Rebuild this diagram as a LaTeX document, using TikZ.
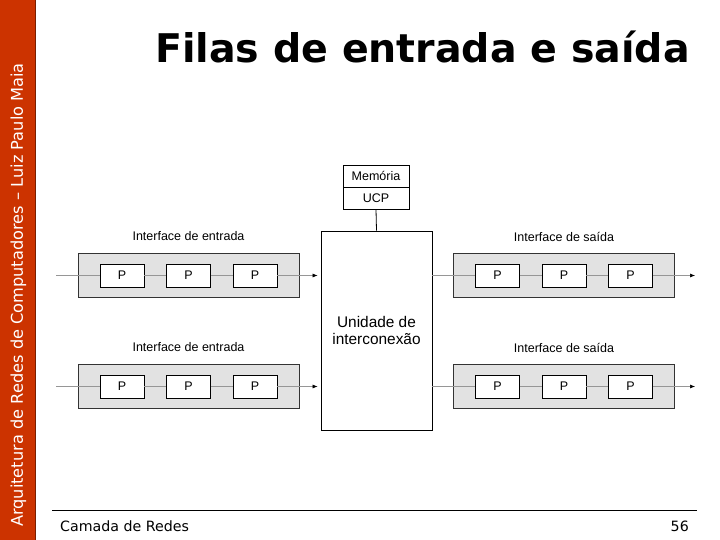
\documentclass[tikz,border=0pt]{standalone}
\usepackage{fontspec}
\setmainfont{Liberation Sans}
\newfontfamily\verd{DejaVu Sans}
\usetikzlibrary{arrows.meta}
\definecolor{barred}{RGB}{204,51,0}
\definecolor{bardark}{RGB}{120,30,0}
\definecolor{boxgray}{RGB}{226,226,226}
\definecolor{flowgray}{RGB}{150,150,150}
\begin{document}
\begin{tikzpicture}[x=1pt,y=-1pt,
  pbox/.style={draw=black,fill=white,line width=0.8pt,minimum width=44pt,minimum height=23pt,inner sep=0pt,font=\fontsize{12.5}{14}\selectfont},
  ifbox/.style={draw=black!80,fill=boxgray,line width=0.8pt,minimum width=221pt,minimum height=44pt,inner sep=0pt},
  lbl/.style={font=\fontsize{12.5}{14}\selectfont,inner sep=0pt},
  flow/.style={draw=flowgray,line width=0.6pt},
  flowarr/.style={flow,-{Latex[length=5pt,width=4pt,black]}},
  plain/.style={draw=black,line width=0.8pt}]
\useasboundingbox (0,0) rectangle (720,540);
\fill[white] (0,0) rectangle (720,540);
% side bar
\fill[barred] (0,0) rectangle (36,540);
\draw[bardark,line width=1pt] (35.5,0) -- (35.5,540);
\node[rotate=90,text=white,font=\verd\fontsize{16.2}{18}\selectfont,inner sep=0pt] (side) at (18.5,295) {Arquitetura de Redes de Computadores – Luiz Paulo Maia};
% title
\node[font=\verd\bfseries\fontsize{39.5}{44}\selectfont,inner sep=0pt,anchor=base] (title) at (422.5,63) {Filas de entrada e saída};
% footer
\draw[black,line width=0.8pt] (52,510) -- (697,510);
\node[font=\verd\fontsize{14.2}{16}\selectfont,anchor=base west,inner sep=0pt] (foot) at (60,531) {Camada de Redes};
\node[font=\verd\fontsize{14.2}{16}\selectfont,anchor=base east,inner sep=0pt] (page) at (689,531) {56};
% memory / cpu
\node[draw=black,line width=0.8pt,minimum width=66pt,minimum height=22pt,inner sep=0pt,font=\fontsize{12.5}{14}\selectfont] (mem) at (376,176) {Memória};
\node[draw=black,line width=0.8pt,minimum width=66pt,minimum height=22pt,inner sep=0pt,font=\fontsize{12.5}{14}\selectfont] (ucp) at (376,198) {UCP};
% interconnection unit
\node[draw=black,line width=0.8pt,minimum width=111pt,minimum height=199pt,inner sep=0pt,align=center,font=\fontsize{15.4}{17.5}\selectfont] (uni) at (376.5,330.5) {Unidade de\\interconexão};
\draw[plain] (ucp.south) -- (uni.north);
% rows
\foreach \r/\y in {a/275.5,b/386.5}{
  % input
  \node[ifbox] (in\r) at (188.5,\y) {};
  \node[lbl] (inl\r) at (188.5,\y-39) {Interface de entrada};
  \node[pbox] (ip1\r) at (122,\y) {P};
  \node[pbox] (ip2\r) at (188.5,\y) {P};
  \node[pbox] (ip3\r) at (255,\y) {P};
  \coordinate (src\r) at (56,\y);
  \draw[flow] (src\r) -- (ip1\r.west);
  \draw[flow] (ip1\r.east) -- (ip2\r.west);
  \draw[flow] (ip2\r.east) -- (ip3\r.west);
  \draw[flowarr,shorten >=3pt] (ip3\r.east) -- (uni.west |- ip3\r.east);
  % output
  \node[ifbox] (out\r) at (564,\y) {};
  \node[lbl] (outl\r) at (564,\y-39) {Interface de saída};
  \node[pbox] (op1\r) at (497.5,\y) {P};
  \node[pbox] (op2\r) at (564,\y) {P};
  \node[pbox] (op3\r) at (630.5,\y) {P};
  \coordinate (dst\r) at (695,\y);
  \draw[flow] (uni.east |- op1\r.west) -- (op1\r.west);
  \draw[flow] (op1\r.east) -- (op2\r.west);
  \draw[flow] (op2\r.east) -- (op3\r.west);
  \draw[flowarr] (op3\r.east) -- (dst\r);
}
\end{tikzpicture}
\end{document}
